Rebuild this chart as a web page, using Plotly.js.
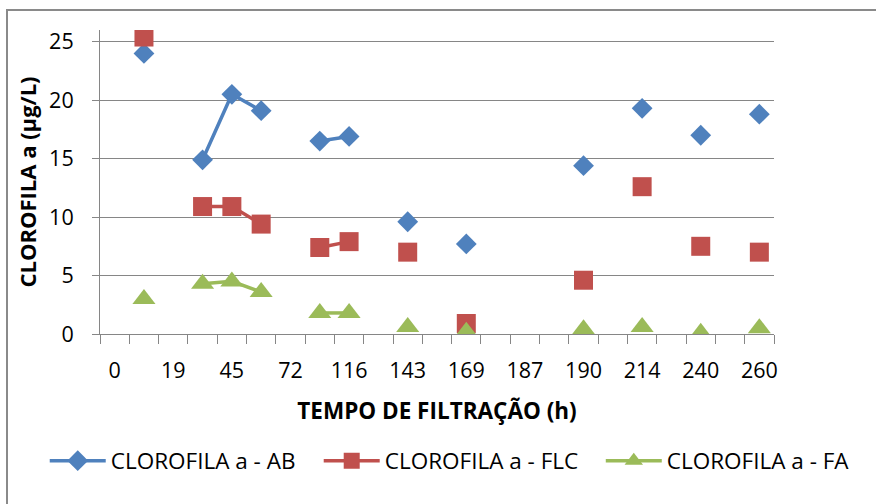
<!DOCTYPE html>
<html>
<head>
<meta charset="utf-8">
<script src="https://cdn.plot.ly/plotly-3.0.1.min.js"></script>
<style>
  html, body { margin: 0; padding: 0; background: #fff; }
  #chart { width: 876px; height: 504px; position: relative; }
  #frame { position: absolute; left: 6px; top: 9px; width: 1000px; height: 1000px;
           border-left: 2px solid #8a8a8a; border-top: 2px solid #8a8a8a; pointer-events: none; }
</style>
</head>
<body>
<div id="chart"></div>
<div id="frame"></div>
<script>
// 23 categories on the x axis; labels shown on every second category
const tickIndex  = [0, 2, 4, 6, 8, 10, 12, 14, 16, 18, 20, 22];
const tickLabels = ['0', '19', '45', '72', '116', '143', '169', '187', '190', '214', '240', '260'];
const categoryIndex = Array.from({length: 23}, (_, i) => i);

// values per category (null = no measurement)
const seriesAB  = [null, 24.0, null, 14.9, 20.5, 19.1, null, 16.5, 16.9, null, 9.6, null, 7.7, null, null, null, 14.4, null, 19.3, null, 17.0, null, 18.8];
const seriesFLC = [null, 25.4, null, 10.9, 10.9, 9.4, null, 7.4, 7.9, null, 7.0, null, 0.9, null, null, null, 4.6, null, 12.6, null, 7.5, null, 7.0];
const seriesFA  = [null, 3.0, null, 4.3, 4.5, 3.6, null, 1.8, 1.8, null, 0.6, null, 0.2, null, null, null, 0.4, null, 0.6, null, 0.1, null, 0.5];

const names = ['CLOROFILA a - AB', 'CLOROFILA a - FLC', 'CLOROFILA a - FA'];
const colors = ['#4F81BD', '#C0504D', '#9BBB59'];
const symbols = ['diamond', 'square', 'triangle-up'];
const sizes = [16, 19, 20];
const legendIds = ['legend', 'legend2', 'legend3'];
const legendX = [-0.082, 0.3245, 0.743];
const allSeries = [seriesAB, seriesFLC, seriesFA];

const traces = allSeries.map((ys, k) => ({
  type: 'scatter',
  mode: 'lines+markers',
  name: names[k],
  legend: legendIds[k],
  x: categoryIndex,
  y: ys,
  connectgaps: false,
  line: {color: colors[k], width: 3.5},
  marker: {symbol: symbols[k], size: sizes[k], color: colors[k]}
}));

const font = {family: '"Open Sans", "DejaVu Sans", sans-serif', color: '#000'};
const gray = '#868686';

const layout = {
  width: 876, height: 504,
  margin: {l: 100, r: 102, t: 30, b: 170},
  paper_bgcolor: '#fff', plot_bgcolor: '#fff',
  font: Object.assign({size: 22}, font),
  showlegend: true,
  xaxis: {
    range: [-0.5, 22.5],
    tickmode: 'array', tickvals: tickIndex, ticktext: tickLabels,
    ticks: '', showgrid: false, zeroline: false,
    showline: true, linecolor: gray, linewidth: 1,
    tickfont: Object.assign({size: 21.5}, font),
    ticklabelstandoff: 17,
    minor: {tickmode: 'linear', tick0: -0.5, dtick: 1, ticks: 'outside', ticklen: 9, tickcolor: gray, tickwidth: 1, showgrid: false},
    title: {text: '<b>TEMPO DE FILTRAÇÃO (h)</b>', font: Object.assign({size: 22.5}, font), standoff: 20}
  },
  yaxis: {
    range: [0, 26], tickmode: 'linear', tick0: 0, dtick: 5,
    ticks: 'outside', ticklen: 7, tickcolor: gray, tickwidth: 1,
    showgrid: true, gridcolor: gray, gridwidth: 1, zeroline: false,
    showline: true, linecolor: gray, linewidth: 1,
    tickfont: Object.assign({size: 21.5}, font),
    ticklabelstandoff: 14,
    title: {text: '<b>CLOROFILA a (µg/L)</b>', font: Object.assign({size: 22}, font), standoff: 6}
  }
};
legendIds.forEach((id, k) => {
  layout[id] = {
    orientation: 'h', x: legendX[k], xanchor: 'left', y: -0.418, yanchor: 'middle',
    font: Object.assign({size: 22.5}, font), itemwidth: 56, bgcolor: 'rgba(0,0,0,0)'
  };
});

Plotly.newPlot('chart', traces, layout, {staticPlot: true, displayModeBar: false});
</script>
</body>
</html>
